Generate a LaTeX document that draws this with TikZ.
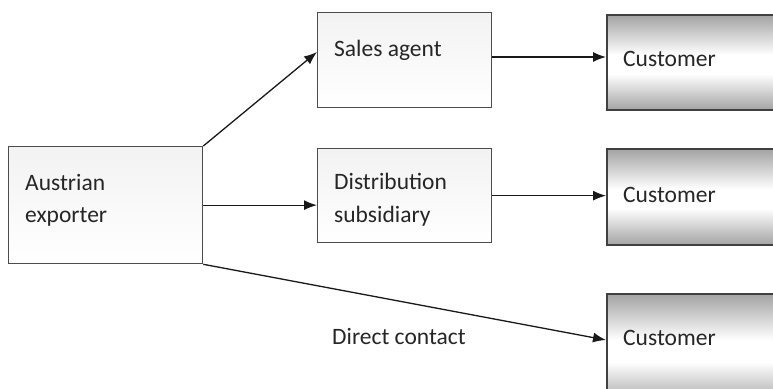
\documentclass[tikz,border=0pt]{standalone}
\usepackage{fontspec}
\setmainfont{Carlito}
\usetikzlibrary{arrows.meta,calc}
\pgfdeclareverticalshading{custshade}{100bp}{color(0bp)=(black!36); color(25bp)=(black!36); color(44bp)=(white); color(54bp)=(white); color(75bp)=(black!36); color(100bp)=(black!36)}
\begin{document}
\begin{tikzpicture}[x=1pt,y=-1pt,
  plainbox/.style={draw=black!70,line width=1.3pt,rectangle,anchor=north west,inner sep=0pt,top color=black!5,bottom color=white},
  custbox/.style={draw=black!75,line width=2pt,rectangle,anchor=north west,inner sep=0pt,shading=custshade},
  lbl/.style={anchor=base west,inner sep=0pt,text=black!85,font=\fontsize{23.5}{28}\selectfont},
  conn/.style={line width=1.3pt,draw=black!90,-{Latex[length=13pt,width=10pt]}}]
\useasboundingbox (0,0) rectangle (773,388);
\begin{scope}
\clip (0,0) rectangle (773,388);
\node[plainbox,minimum width=194pt,minimum height=117pt] (exp) at (8,146) {};
\node[plainbox,minimum width=174pt,minimum height=95pt] (agent) at (317,12) {};
\node[plainbox,minimum width=174pt,minimum height=94pt] (dist) at (317,148) {};
\node[custbox,minimum width=190pt,minimum height=95pt] (c1) at (606,14) {};
\node[custbox,minimum width=190pt,minimum height=96pt] (c2) at (606,148) {};
\node[custbox,minimum width=190pt,minimum height=110pt] (c3) at (606,293) {};
\end{scope}
\node[lbl] (t1) at (25,190) {Austrian};
\node[lbl] (t2) at (25,222) {exporter};
\node[lbl] (t3) at (334,56) {Sales agent};
\node[lbl] (t4) at (334,189) {Distribution};
\node[lbl] (t5) at (334,222) {subsidiary};
\node[lbl] (t6) at (623,66) {Customer};
\node[lbl] (t7) at (623,202) {Customer};
\node[lbl] (t8) at (623,345) {Customer};
\node[lbl] (t9) at (332,344) {Direct contact};
\coordinate (a1) at (317,52);
\coordinate (a3) at (606,340);
\draw[conn] (exp.north east) -- (a1);
\draw[conn] (exp.east) -- (exp.east -| dist.west);
\draw[conn] (exp.south east) -- (a3);
\draw[conn] (agent.east |- 0,57) -- (c1.west |- 0,57);
\draw[conn] (dist.east) -- (dist.east -| c2.west);
\end{tikzpicture}
\end{document}
